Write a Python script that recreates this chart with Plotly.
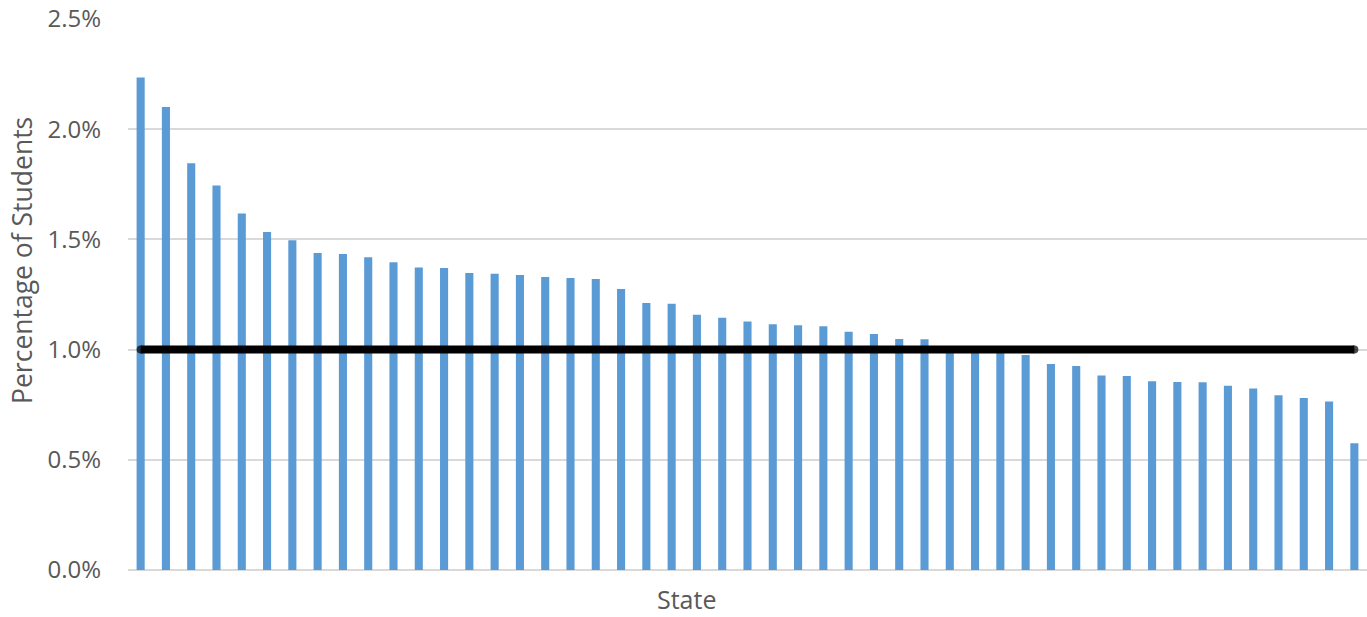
import plotly.graph_objects as go

states = [f"State {i}" for i in range(1, 50)]
pct = [2.235, 2.101, 1.845, 1.744, 1.617, 1.534, 1.496, 1.438, 1.434, 1.419,
       1.396, 1.372, 1.370, 1.348, 1.344, 1.338, 1.329, 1.325, 1.320, 1.275,
       1.211, 1.208, 1.158, 1.145, 1.128, 1.115, 1.110, 1.106, 1.081, 1.071,
       1.048, 1.047, 1.000, 0.995, 0.990, 0.975, 0.935, 0.926, 0.882, 0.880,
       0.856, 0.853, 0.852, 0.836, 0.824, 0.793, 0.780, 0.765, 0.575]
benchmark = 1.0
y_ticks = [0, 0.5, 1.0, 1.5, 2.0, 2.5]
y_tick_labels = ["0.0%", "0.5%", "1.0%", "1.5%", "2.0%", "2.5%"]

FONT = "'Open Sans', sans-serif"
GREY = "#595959"

n = len(states)
cap_sizes = [8 if i in (0, n - 1) else 0 for i in range(n)]

fig = go.Figure()
fig.add_trace(go.Bar(x=states, y=pct, marker=dict(color="#5B9BD5", line=dict(width=0)),
                     hoverinfo="x+y"))
fig.add_trace(go.Scatter(x=states, y=[benchmark] * n, mode="lines+markers",
                         line=dict(color="#000000", width=8),
                         marker=dict(color="#000000", size=cap_sizes, line=dict(width=0)),
                         hoverinfo="skip"))

fig.update_layout(
    width=1367, height=617,
    margin=dict(l=128, r=0, t=19, b=47),
    paper_bgcolor="white", plot_bgcolor="white",
    showlegend=False, bargap=0.68,
    font=dict(family=FONT, color=GREY, size=24),
    xaxis=dict(showticklabels=False, showgrid=False, zeroline=False,
               showline=False, ticks="", range=[-0.5, n - 0.5]),
    yaxis=dict(range=[0, 2.5], tickvals=y_ticks, ticktext=y_tick_labels,
               showgrid=True, gridcolor="#D9D9D9", gridwidth=1.5,
               zeroline=True, zerolinecolor="#D9D9D9", zerolinewidth=1.5,
               showline=False, ticks="", ticklabelstandoff=26,
               tickfont=dict(size=24, color=GREY)),
    annotations=[
        dict(text="State", xref="paper", yref="paper", x=0.451, y=-0.053,
             xanchor="center", yanchor="middle", showarrow=False,
             font=dict(size=25, color=GREY, family=FONT)),
        dict(text="Percentage of Students", xref="paper", yref="paper",
             x=-0.0856, y=0.5626, textangle=-90,
             xanchor="center", yanchor="middle", showarrow=False,
             font=dict(size=26.5, color=GREY, family=FONT)),
    ],
)

fig.write_html("out.html", config={"displayModeBar": False},
               post_script="document.body.style.margin='0';document.body.style.overflow='hidden';")
